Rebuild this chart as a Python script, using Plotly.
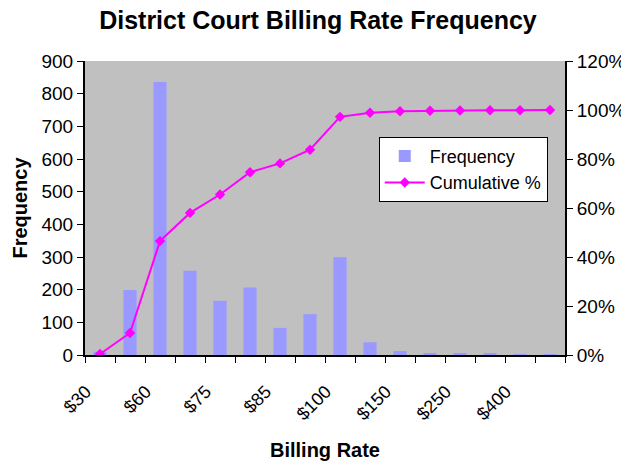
import plotly.graph_objects as go

categories = ["$30", "$50", "$60", "$65", "$75", "$80", "$85", "$90",
              "$100", "$125", "$150", "$200", "$250", "$300", "$400", "More"]
frequency = [10, 199, 836, 258, 166, 207, 83, 125, 299, 39, 12, 6, 6, 4, 3, 3]
cumulative_pct = [0.004, 0.090, 0.465, 0.580, 0.655, 0.746, 0.782, 0.838,
                  0.972, 0.989, 0.995, 0.997, 0.998, 0.999, 0.999, 1.000]
shown_labels = ["$30", "$60", "$75", "$85", "$100", "$150", "$250", "$400"]

ticktext = [c if c in shown_labels else "" for c in categories]

fig = go.Figure()
fig.add_trace(go.Bar(x=categories, y=frequency, name="Frequency",
                     marker=dict(color="#9999FF", line=dict(width=0))))
fig.add_trace(go.Scatter(x=categories, y=cumulative_pct, name="Cumulative %",
                         yaxis="y2", mode="lines+markers",
                         line=dict(color="#FF00FF", width=2),
                         marker=dict(symbol="diamond", size=8, color="#FF00FF")))

font = "Liberation Sans, Arial, sans-serif"
fig.update_layout(
    width=621, height=468,
    margin=dict(l=85, r=56, t=61, b=113),
    paper_bgcolor="white", plot_bgcolor="#C0C0C0",
    font=dict(family=font, size=18, color="black"),
    title=dict(text="<b>District Court Billing Rate Frequency</b>",
               x=0.512, xanchor="center", y=0.957, yanchor="middle",
               font=dict(size=25, family=font)),
    bargap=0.56,
    showlegend=True,
    legend=dict(x=0.612, y=0.742, xanchor="left", yanchor="top",
                bgcolor="white", bordercolor="black", borderwidth=1,
                font=dict(size=18), tracegroupgap=0, itemwidth=40),
    xaxis=dict(type="category", range=[-0.5, len(categories) - 0.5],
               tickmode="array", tickvals=categories,
               ticktext=ticktext, tickangle=-45, tickson="boundaries",
               ticks="outside", ticklen=6, tickcolor="black",
               showline=True, linecolor="black", linewidth=2, mirror=False,
               showgrid=False, ticklabelstandoff=17, ticklabelshift=-14,
               automargin=False,
               tickfont=dict(size=18),
               title=dict(text="<b>Billing Rate</b>", font=dict(size=20), standoff=20)),
    yaxis=dict(range=[0, 900], dtick=100, ticks="outside", ticklen=6,
               tickcolor="black", showline=True, linecolor="black", linewidth=2,
               showgrid=False, zeroline=False, tickfont=dict(size=19),
               automargin=False,
               title=dict(text="<b>Frequency</b>", font=dict(size=20), standoff=8)),
    yaxis2=dict(range=[0, 1.2], dtick=0.2, tickformat=".0%", overlaying="y",
                side="right", ticks="outside", ticklen=6, tickcolor="black",
                showline=True, linecolor="black", linewidth=2, showgrid=False,
                zeroline=False, tickfont=dict(size=19), automargin=False),
)

fig.write_html("out.html", config={"displayModeBar": False},
               post_script="document.body.style.margin='0px';")
